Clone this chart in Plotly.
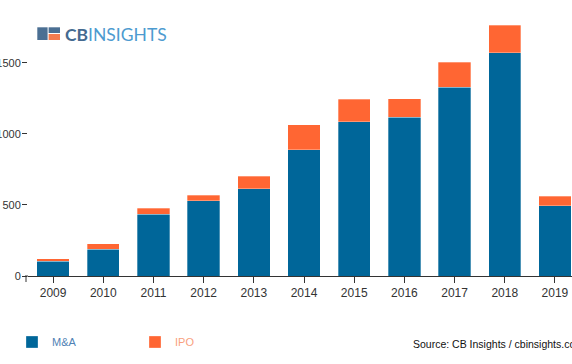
import plotly.graph_objects as go

years = ["2009", "2010", "2011", "2012", "2013", "2014", "2015", "2016", "2017", "2018", "2019"]
ma_values = [102, 189, 435, 530, 614, 889, 1083, 1116, 1327, 1569, 494]
ipo_values = [19, 38, 40, 37, 87, 173, 160, 132, 177, 195, 68]
y_ticks = [0, 500, 1000, 1500]

MA_COLOR = "#006699"
IPO_COLOR = "#ff6633"
FONT = "Arial, Liberation Sans, sans-serif"

# plot area in pixels
W, H = 572, 364
L, R, T, B = 28, 0, 20, 88
PW, PH = W - L - R, H - T - B


def px(x):
    return (x - L) / PW


def py(y):
    return (H - B - y) / PH


fig = go.Figure()
fig.add_bar(
    x=years, y=ma_values, name='<span style="color:#4f82b5">M&A</span>',
    marker=dict(color=MA_COLOR, line=dict(width=0.6, color="rgba(255,255,255,0.5)")),
)
fig.add_bar(
    x=years, y=ipo_values, name='<span style="color:#f99f7e">IPO</span>',
    marker=dict(color=IPO_COLOR, line=dict(width=0.6, color="rgba(255,255,255,0.5)")),
)

shapes = [
    # outer tick at left end of x axis
    dict(type="line", xref="paper", yref="paper", x0=px(25), x1=0, y0=0, y1=0,
         line=dict(color="#333333", width=1)),
    dict(type="line", xref="paper", yref="paper", x0=px(26), x1=px(26), y0=0, y1=-6 / PH,
         line=dict(color="#333333", width=1)),
    # logo icon
    dict(type="rect", xref="paper", yref="paper", x0=px(37.3), x1=px(47.6), y0=py(40), y1=py(27.3),
         fillcolor="#4b6f93", line=dict(width=0)),
    dict(type="rect", xref="paper", yref="paper", x0=px(48.6), x1=px(60), y0=py(33), y1=py(27.3),
         fillcolor="#4b6f93", line=dict(width=0)),
    dict(type="rect", xref="paper", yref="paper", x0=px(48.6), x1=px(60), y0=py(40), y1=py(34),
         fillcolor="#f47c50", line=dict(width=0)),
]

annotations = [
    dict(xref="paper", yref="paper", x=px(62.5), y=py(34), xanchor="left", yanchor="middle",
         showarrow=False,
         text='<b><span style="color:#456a90">CB</span></b><span style="color:#4d9bd0">INSIGHTS</span>',
         font=dict(family="Lato, Arial, sans-serif", size=17.5)),
    dict(xref="paper", yref="paper", x=px(411), y=py(344), xanchor="left", yanchor="middle",
         showarrow=False, text="Source: CB Insights / cbinsights.com",
         font=dict(family=FONT, size=10.5, color="#111111")),
]

fig.update_layout(
    width=W, height=H,
    margin=dict(l=L, r=R, t=T, b=B, pad=0, autoexpand=False),
    barmode="stack", bargap=0.355,
    plot_bgcolor="white", paper_bgcolor="white",
    font=dict(family=FONT, size=12, color="#333333"),
    showlegend=True,
    legend=dict(orientation="h", xref="container", yref="container",
                x=12 / W, xanchor="left", y=(H - 342) / H, yanchor="middle",
                entrywidth=78, entrywidthmode="pixels",
                font=dict(family=FONT, size=11), bgcolor="rgba(0,0,0,0)", traceorder="normal"),
    shapes=shapes,
    annotations=annotations,
)
fig.update_xaxes(
    type="category", range=[-0.5, 10.34], automargin=False,
    showline=True, linecolor="#333333", linewidth=1,
    ticks="outside", ticklen=6, tickcolor="#333333",
    showgrid=False, zeroline=False,
    tickfont=dict(size=12, color="#333333"),
)
fig.update_yaxes(
    range=[0, 1800], tickvals=y_ticks, automargin=False,
    showline=False, showgrid=False, zeroline=False,
    ticks="outside", ticklen=5, tickcolor="#333333", ticklabelstandoff=-1,
    tickfont=dict(size=11, color="#333333"),
)

fig.write_html(
    "out.html",
    config={"displayModeBar": False},
    post_script="document.body.style.margin='0';document.body.style.overflow='hidden';",
)
